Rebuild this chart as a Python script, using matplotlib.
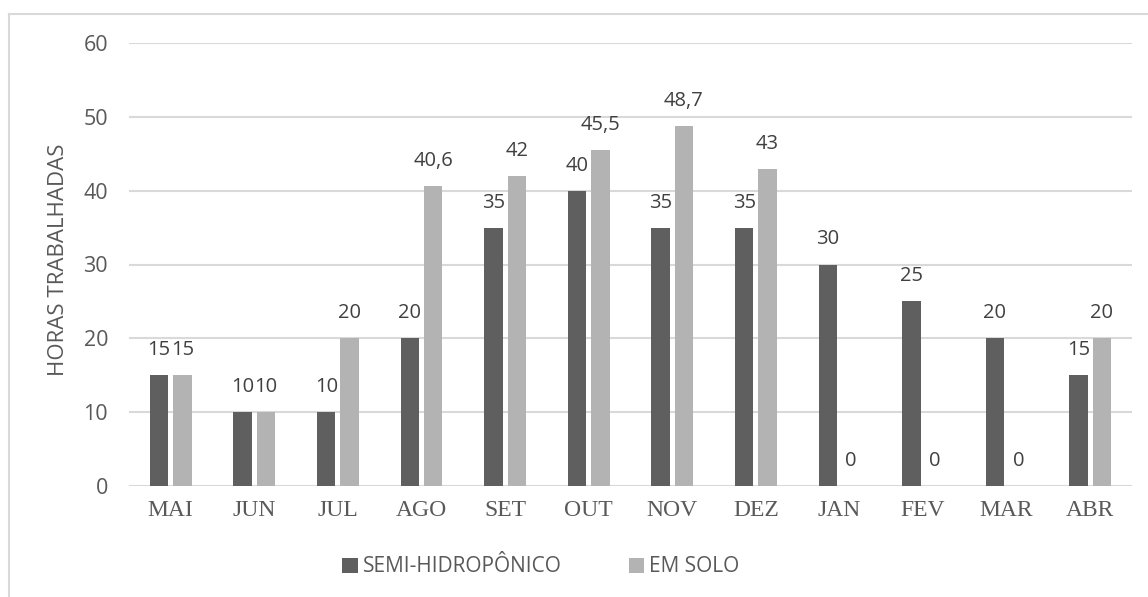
import matplotlib
matplotlib.use("Agg")
import matplotlib.pyplot as plt
from matplotlib.lines import Line2D
import numpy as np

# Monthly worked hours for the two cultivation systems
months = ["MAI", "JUN", "JUL", "AGO", "SET", "OUT", "NOV", "DEZ", "JAN", "FEV", "MAR", "ABR"]
semi_hidroponico = [15, 10, 10, 20, 35, 40, 35, 35, 30, 25, 20, 15]
em_solo = [15, 10, 20, 40.6, 42, 45.5, 48.7, 43, 0, 0, 0, 20]
series_names = ["SEMI-HIDROPÔNICO", "EM SOLO"]
y_ticks = [0, 10, 20, 30, 40, 50, 60]

W, H = 1148, 597
fig = plt.figure(figsize=(W / 100, H / 100), dpi=100)
fig.patch.set_facecolor("white")

ax = fig.add_axes([129 / W, 1 - 486 / H, (1132 - 129) / W, (486 - 43) / H])

dark = "#5f5f5f"
light = "#b3b3b3"
grid_c = "#d9d9d9"
txt_c = "#595959"
lbl_c = "#404040"
sans = "Open Sans"
serif = "Liberation Serif"

x = np.arange(len(months))
bw = 0.22
gap = 0.06
off = (bw + gap) / 2

b1 = ax.bar(x - off, semi_hidroponico, width=bw, color=dark, label=series_names[0], zorder=3)
b2 = ax.bar(x + off, em_solo, width=bw, color=light, label=series_names[1], zorder=3)

def fmt(v):
    s = f"{v:g}"
    return s.replace(".", ",")

for bars, vals in ((b1, semi_hidroponico), (b2, em_solo)):
    for rect, v in zip(bars, vals):
        ax.annotate(fmt(v), xy=(rect.get_x() + rect.get_width() / 2, v),
                    xytext=(0, 18), textcoords="offset points",
                    ha="center", va="center", fontsize=14.5,
                    family=sans, color=lbl_c, zorder=4)

ax.set_xlim(-0.5, len(months) - 0.5)
ax.set_ylim(0, 60)
ax.set_yticks(y_ticks)
ax.set_xticks(x)
ax.set_xticklabels(months, family=serif, fontsize=17, color=txt_c)
ax.set_yticklabels([str(t) for t in y_ticks], family=sans, fontsize=15.5, color=txt_c)
ax.tick_params(axis="y", length=0, pad=15)
ax.tick_params(axis="x", length=0, pad=10)

ax.grid(axis="y", color=grid_c, linewidth=1.5, zorder=0)
ax.set_axisbelow(True)
for s in ax.spines.values():
    s.set_visible(False)

fig.text(59 / W, 1 - 260 / H, "HORAS TRABALHADAS", rotation=90, ha="center", va="center",
         family=sans, fontsize=16, color=txt_c)

fig.legend(handles=[b1, b2], labels=series_names, loc="center",
           bbox_to_anchor=(541 / W, 1 - 567 / H), ncol=2, frameon=False,
           prop={"family": sans, "size": 15}, labelcolor=txt_c,
           handlelength=0.75, handleheight=0.75, handletextpad=0.25,
           columnspacing=3.2)

# outer chart frame
fig.add_artist(Line2D([8.5 / W, 8.5 / W], [0, 1 - 13.5 / H], transform=fig.transFigure,
                      color=grid_c, linewidth=1.5))
fig.add_artist(Line2D([8.5 / W, 1], [1 - 13.5 / H, 1 - 13.5 / H], transform=fig.transFigure,
                      color=grid_c, linewidth=1.5))

fig.savefig("out.png", dpi=100, facecolor="white")
